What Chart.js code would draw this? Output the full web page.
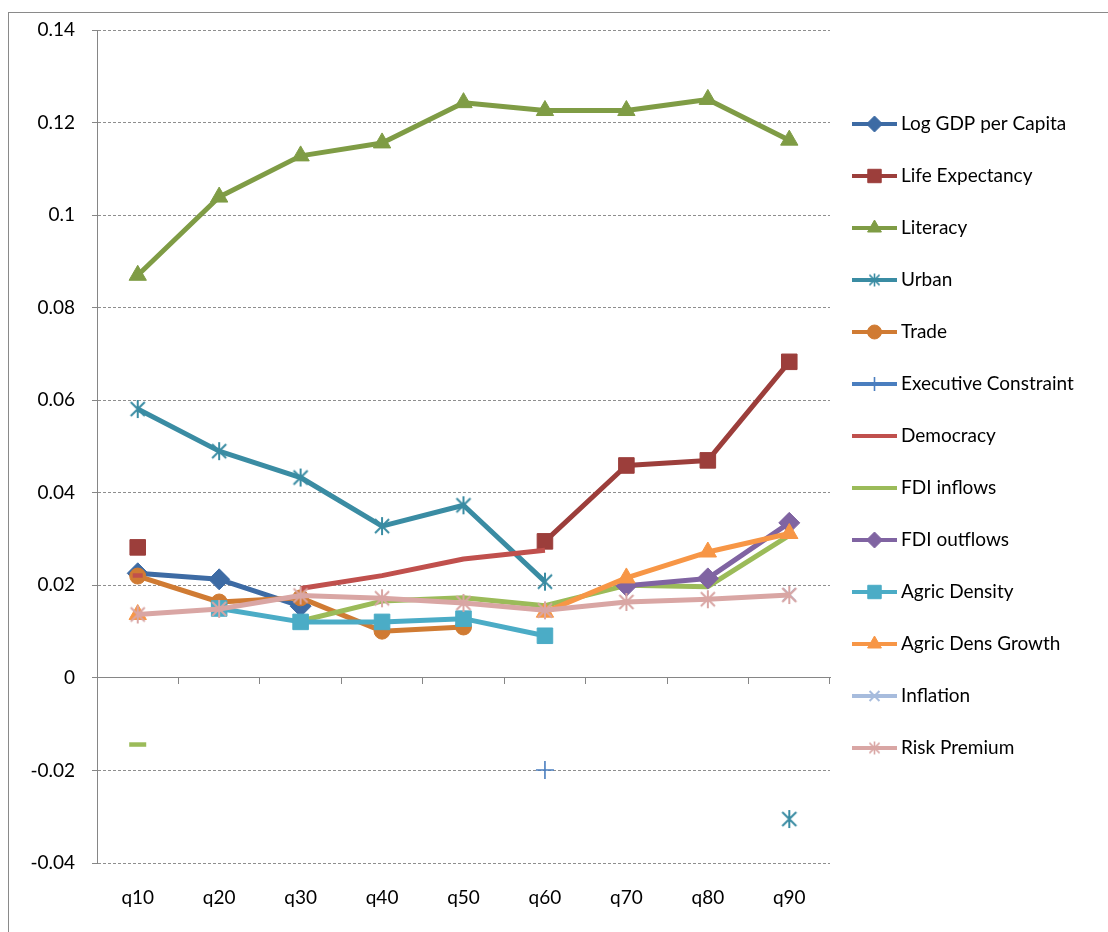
<!DOCTYPE html>
<html lang="en">
<head>
<meta charset="UTF-8">
<title>Quantile coefficients</title>
<script src="https://cdn.jsdelivr.net/npm/chart.js"></script>
<style>
  html, body { margin: 0; padding: 0; background: #fff; overflow: hidden; }
  .frame { position: absolute; left: 8px; top: 12px; width: 1200px; height: 1000px; border: 1px solid #8a8a8a; }
  #wrap { position: absolute; left: 0; top: 0; width: 1108px; height: 932px; }
</style>
</head>
<body>
<div class="frame"></div>
<div id="wrap"><canvas id="chart" width="1108" height="932"></canvas></div>
<script>
// categories and tick labels
const quantiles = ['q10', 'q20', 'q30', 'q40', 'q50', 'q60', 'q70', 'q80', 'q90'];
const yTickLabels = ['-0.04', '-0.02', '0', '0.02', '0.04', '0.06', '0.08', '0.1', '0.12', '0.14'];

// series values (null = no estimate shown)
const logGdp      = [0.0226, 0.0213, 0.0155, null, null, null, null, null, null];
const lifeExp     = [0.0282, null, null, null, null, 0.0295, 0.0459, 0.0470, 0.0683];
const literacy    = [0.0870, 0.1039, 0.1128, 0.1156, 0.1243, 0.1226, 0.1226, 0.1250, 0.1162];
const urban       = [0.0581, 0.0490, 0.0433, 0.0328, 0.0373, 0.0208, null, null, -0.0305];
const trade       = [0.0220, 0.0164, 0.0173, 0.0101, 0.0110, null, null, null, null];
const execConstr  = [null, null, null, null, null, -0.0199, null, null, null];
const democracy   = [0.0221, null, 0.0193, 0.0221, 0.0257, 0.0276, null, null, null];
const fdiIn       = [-0.0144, null, 0.0123, 0.0166, 0.0173, 0.0156, 0.0200, 0.0197, 0.0308];
const fdiOut      = [null, null, null, null, null, null, 0.0199, 0.0215, 0.0335];
const agricDens   = [null, 0.0150, 0.0121, 0.0121, 0.0128, 0.0091, null, null, null];
const agricGrowth = [0.0137, null, null, null, null, 0.0142, 0.0216, 0.0272, 0.0312];
const inflation   = [null, null, null, null, null, null, null, null, 0.0180];
const riskPrem    = [0.0137, 0.0149, 0.0178, 0.0172, 0.0162, 0.0146, 0.0164, 0.0170, 0.0179];

// six-armed asterisk marker like the spreadsheet "star"
function asterisk(color, size, lw) {
  const c = document.createElement('canvas');
  c.width = c.height = size;
  const g = c.getContext('2d');
  const m = size / 2, r = size / 2 - 1, d = r * 0.78;
  g.strokeStyle = color;
  g.lineWidth = lw;
  g.beginPath();
  g.moveTo(m, m - r); g.lineTo(m, m + r);
  g.moveTo(m - d, m - d); g.lineTo(m + d, m + d);
  g.moveTo(m + d, m - d); g.lineTo(m - d, m + d);
  g.stroke();
  return c;
}

function isolatedOnly(r) {
  return ctx => {
    const d = ctx.dataset.data, i = ctx.dataIndex;
    if (i === undefined) return 0;
    return (d[i - 1] == null && d[i + 1] == null) ? r : 0;
  };
}

function series(label, data, color, m) {
  return {
    label: label,
    data: data,
    borderColor: color,
    backgroundColor: color,
    borderWidth: 5,
    borderJoinStyle: 'round',
    pointStyle: m.style,
    pointRadius: m.radius,
    pointBackgroundColor: color,
    pointBorderColor: color,
    pointBorderWidth: m.width,
    legendStyle: m.legend === undefined ? m.style : m.legend,
    legendRadius: m.lr,
    showLegendMarker: m.show !== false
  };
}

const datasets = [
  series('Log GDP per Capita', logGdp, '#3D6BA4', {style: 'rectRot', radius: 10.5, width: 1, lr: 8}),
  series('Life Expectancy', lifeExp, '#9C3E3B', {style: 'rect', radius: 11, width: 1, lr: 9.5}),
  series('Literacy', literacy, '#7F9C45', {style: 'triangle', radius: 10, width: 1, lr: 8}),
  series('Urban', urban, '#3A8CA3', {style: asterisk('#3A8CA3', 20, 2), radius: 9, width: 1, legend: asterisk('#3A8CA3', 15, 1.6)}),
  series('Trade', trade, '#D07B33', {style: 'circle', radius: 8, width: 1, lr: 7}),
  series('Executive Constraint', execConstr, '#4A7EBF', {style: 'cross', radius: 9, width: 1.6, lr: 7}),
  series('Democracy', democracy, '#C0504D', {style: 'line', radius: isolatedOnly(5), width: 4.5, show: false}),
  series('FDI inflows', fdiIn, '#9BBB59', {style: 'line', radius: isolatedOnly(8.5), width: 4.5, show: false}),
  series('FDI outflows', fdiOut, '#8064A2', {style: 'rectRot', radius: 10.5, width: 1, lr: 8}),
  series('Agric Density', agricDens, '#4BACC6', {style: 'rect', radius: 11, width: 1, lr: 9.5}),
  series('Agric Dens Growth', agricGrowth, '#F79646', {style: 'triangle', radius: 10, width: 1, lr: 8}),
  series('Inflation', inflation, '#A7BCDD', {style: 'crossRot', radius: 9, width: 2, lr: 7}),
  series('Risk Premium', riskPrem, '#D9A6A4', {style: asterisk('#D9A6A4', 20, 2), radius: 9, width: 1, legend: asterisk('#D9A6A4', 15, 1.6)})
];
// later series sit on top, as in the original
datasets.forEach((ds, i) => { ds.order = datasets.length - i; });

const sideLegend = {
  id: 'sideLegend',
  afterDraw(chart) {
    const ctx = chart.ctx, area = chart.chartArea;
    const x0 = area.right + 22, x1 = x0 + 45, tx = x1 + 4;
    chart.data.datasets.forEach((ds, i) => {
      const y = area.top + 94 + i * 52;
      ctx.save();
      ctx.strokeStyle = ds.borderColor;
      ctx.lineWidth = 4;
      ctx.beginPath();
      ctx.moveTo(x0, y);
      ctx.lineTo(x1, y);
      ctx.stroke();
      if (ds.showLegendMarker) {
        ctx.fillStyle = ds.pointBackgroundColor;
        ctx.strokeStyle = ds.pointBorderColor;
        ctx.lineWidth = ds.pointBorderWidth;
        Chart.helpers.drawPoint(ctx, {
          pointStyle: ds.legendStyle, radius: ds.legendRadius || 7,
          rotation: 0, borderWidth: ds.pointBorderWidth
        }, (x0 + x1) / 2, y);
      }
      ctx.fillStyle = '#000';
      ctx.font = '19px Lato';
      ctx.textAlign = 'left';
      ctx.textBaseline = 'middle';
      ctx.fillText(ds.label, tx, y);
      ctx.restore();
    });
  }
};

new Chart(document.getElementById('chart'), {
  type: 'line',
  data: { labels: quantiles, datasets: datasets },
  plugins: [sideLegend],
  options: {
    responsive: false,
    animation: false,
    layout: { padding: { top: 30, right: 278, bottom: 0, left: 0 } },
    plugins: { legend: { display: false }, tooltip: { enabled: false } },
    scales: {
      x: {
        type: 'category',
        position: 'bottom',
        offset: true,
        grid: { display: false, drawTicks: false },
        border: { display: false },
        ticks: { color: '#000', font: { family: 'Lato', size: 19 }, padding: 23, maxRotation: 0 },
        afterFit: s => { s.height = 69; }
      },
      x2: {
        type: 'category',
        position: { y: 0 },
        offset: true,
        grid: { display: true, offset: true, drawOnChartArea: false, drawTicks: true, tickLength: 6, color: '#868686' },
        border: { display: true, color: '#868686', width: 1 },
        ticks: { display: false }
      },
      y: {
        min: -0.04,
        max: 0.14,
        ticks: {
          stepSize: 0.02,
          color: '#000',
          font: { family: 'Lato', size: 19 },
          padding: 17,
          callback: (v, i) => yTickLabels[i]
        },
        grid: { color: '#8e8e8e', lineWidth: 1, tickLength: 5, tickColor: '#868686', tickBorderDash: [] },
        border: { display: true, color: '#868686', width: 1, dash: [3, 2] },
        afterFit: s => { s.width = 97; }
      }
    }
  }
});
</script>
</body>
</html>
